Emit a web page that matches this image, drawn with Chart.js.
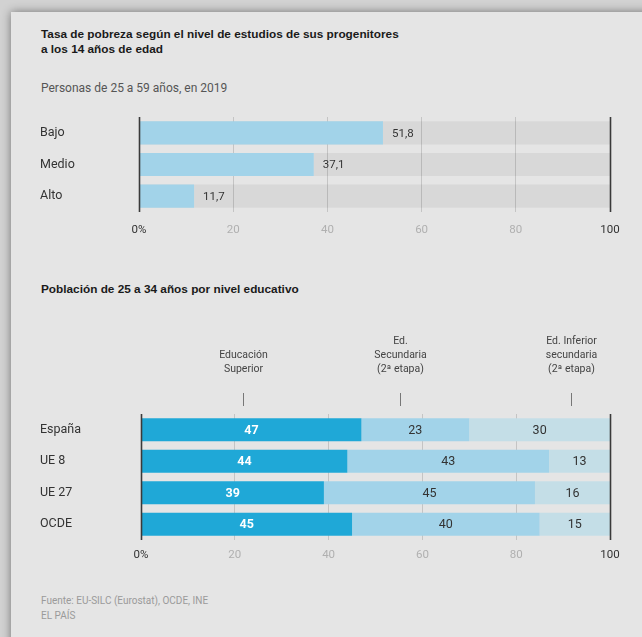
<!DOCTYPE html>
<html>
<head>
<meta charset="utf-8">
<script src="https://cdn.jsdelivr.net/npm/chart.js@4.4.1/dist/chart.umd.min.js"></script>
<style>
    html, body {
        margin: 0;
        padding: 0;
    }
    body {
        width: 642px;
        height: 637px;
        overflow: hidden;
        background: #d2d2d2;
        position: relative;
        font-family: Roboto, "Noto Sans", sans-serif;
    }
    #card {
        position: absolute;
        left: 11px;
        top: 12px;
        width: 700px;
        height: 700px;
        background: #e5e5e5;
        box-shadow: 0 0 9px rgba(0, 0, 0, 0.45);
    }
    .title {
        position: absolute;
        left: 41px;
        font-family: "Liberation Sans", Arial, sans-serif;
        font-weight: bold;
        font-size: 11.8px;
        line-height: 15px;
        color: #1a1a1a;
    }
    .subtitle {
        position: absolute;
        left: 41px;
        top: 81px;
        font-size: 12px;
        color: #555;
    }
    .footer {
        position: absolute;
        left: 41px;
        top: 593px;
        font-size: 10px;
        line-height: 15px;
        color: #9a9a9a;
    }
    canvas {
        position: absolute;
        left: 0;
    }
</style>
</head>
<body>
<div id="card"></div>
<div class="title" style="top: 27px;">Tasa de pobreza según el nivel de estudios de sus progenitores<br>a los 14 años de edad</div>
<div class="subtitle">Personas de 25 a 59 años, en 2019</div>
<div class="title" style="top: 282px;">Población de 25 a 34 años por nivel educativo</div>
<div class="footer">Fuente: EU-SILC (Eurostat), OCDE, INE<br>EL PAÍS</div>

<div style="position:absolute;left:0;top:100px;width:642px;height:145px;">
    <canvas id="pobreza"></canvas>
</div>
<div style="position:absolute;left:0;top:320px;width:642px;height:250px;">
    <canvas id="poblacion"></canvas>
</div>

<script>
const FONT = 'Roboto, "Noto Sans", sans-serif';

// tasa de pobreza por nivel de estudios de los progenitores
const nivelesPadres = ['Bajo', 'Medio', 'Alto'];
const tasaPobreza = [51.8, 37.1, 11.7];

// población de 25 a 34 años por nivel educativo
const zonas = ['España', 'UE 8', 'UE 27', 'OCDE'];
const superior = [47, 44, 39, 45];
const secundaria = [23, 43, 45, 40];
const inferior = [30, 13, 16, 15];
const nivelesEducativos = [
    ['Educación', 'Superior'],
    ['Ed.', 'Secundaria', '(2ª etapa)'],
    ['Ed. Inferior', 'secundaria', '(2ª etapa)']
];

const xTicks = [0, 20, 40, 60, 80, 100];

function tickLabel(value) {
    return value === 0 ? '0%' : String(value);
}

function xScaleOptions(tickPadding, axisHeight) {
    return {
        min: 0, max: 100,
        stacked: true,
        afterBuildTicks: function (scale) {
            scale.ticks = xTicks.map(v => ({value: v}));
        },
        afterFit: function (scale) {
            scale.height = axisHeight;
        },
        border: {display: false},
        grid: {
            drawTicks: false,
            color: ctx => (ctx.tick.value === 0 || ctx.tick.value === 100) ? 'rgba(0,0,0,0)' : '#c4c4c4',
            lineWidth: 1
        },
        ticks: {
            padding: tickPadding,
            maxRotation: 0,
            callback: tickLabel,
            color: ctx => (ctx.tick.value === 0 || ctx.tick.value === 100) ? '#333' : '#b0b0b0',
            font: {family: FONT, size: 11.5}
        }
    };
}

function yScaleOptions(axisWidth) {
    return {
        stacked: true,
        afterFit: function (scale) {
            scale.width = axisWidth;
        },
        border: {display: false},
        grid: {display: false, drawTicks: false},
        ticks: {
            crossAlign: 'far',
            padding: 0,
            color: '#333',
            font: {family: FONT, size: 12.5}
        }
    };
}

// dark lines at 0 and 100, drawn above the bars
const edgeLines = {
    id: 'edgeLines',
    afterDatasetsDraw(chart) {
        const {ctx, chartArea, scales: {x}} = chart;
        ctx.save();
        ctx.strokeStyle = '#3a3a3a';
        ctx.lineWidth = 1.6;
        [x.min, x.max].forEach(v => {
            const px = Math.round(x.getPixelForValue(v)) + 0.5;
            ctx.beginPath();
            ctx.moveTo(px, chartArea.top);
            ctx.lineTo(px, chartArea.bottom);
            ctx.stroke();
        });
        ctx.restore();
    }
};

// value printed just after the end of each bar
const endLabels = {
    id: 'endLabels',
    afterDatasetsDraw(chart) {
        const {ctx} = chart;
        const meta = chart.getDatasetMeta(1);
        ctx.save();
        ctx.font = '11.5px ' + FONT;
        ctx.fillStyle = '#333';
        ctx.textAlign = 'left';
        ctx.textBaseline = 'middle';
        meta.data.forEach((bar, i) => {
            const value = chart.data.datasets[1].data[i];
            ctx.fillText(value.toFixed(1).replace('.', ','), bar.x + 9, bar.y + 1);
        });
        ctx.restore();
    }
};

// value centred inside each stacked segment
const segmentLabels = {
    id: 'segmentLabels',
    afterDatasetsDraw(chart) {
        const {ctx} = chart;
        ctx.save();
        ctx.textAlign = 'center';
        ctx.textBaseline = 'middle';
        chart.data.datasets.forEach((ds, d) => {
            const meta = chart.getDatasetMeta(d);
            ctx.font = (d === 0 ? 'bold 12.5px ' : '12.5px ') + FONT;
            ctx.fillStyle = d === 0 ? '#ffffff' : '#333';
            meta.data.forEach((bar, i) => {
                ctx.fillText(String(ds.data[i]), (bar.x + bar.base) / 2, bar.y + 1);
            });
        });
        ctx.restore();
    }
};

// column headings above the stacked bars
const headings = {
    id: 'headings',
    afterDraw(chart) {
        const {ctx, scales: {x}} = chart;
        const at = [21.7, 55.2, 91.7];
        ctx.save();
        ctx.font = '10.5px ' + FONT;
        ctx.fillStyle = '#444';
        ctx.textAlign = 'center';
        ctx.textBaseline = 'middle';
        ctx.strokeStyle = '#777';
        ctx.lineWidth = 1;
        nivelesEducativos.forEach((lines, i) => {
            const px = Math.round(x.getPixelForValue(at[i])) + 0.5;
            const first = 49 - (lines.length - 1) * 14;
            lines.forEach((line, j) => ctx.fillText(line, px, first + j * 14));
            ctx.beginPath();
            ctx.moveTo(px, 73);
            ctx.lineTo(px, 86);
            ctx.stroke();
        });
        ctx.restore();
    }
};

function renderPobreza() {
    const ctx = document.getElementById('pobreza').getContext('2d');
    new Chart(ctx, {
        type: 'bar',
        data: {
            labels: nivelesPadres,
            datasets: [{
                data: nivelesPadres.map(() => 100),
                backgroundColor: 'rgba(0,0,0,0.055)',
                order: 2
            }, {
                data: tasaPobreza,
                backgroundColor: '#a2d3e9',
                order: 1
            }]
        },
        options: {
            indexAxis: 'y',
            responsive: true,
            maintainAspectRatio: false,
            animation: false,
            barPercentage: 0.73,
            categoryPercentage: 1,
            grouped: false,
            layout: {padding: {left: 40, right: 32, top: 17, bottom: 0}},
            plugins: {legend: {display: false}, tooltip: {enabled: false}},
            scales: {
                x: Object.assign(xScaleOptions(11, 33), {stacked: false}),
                y: Object.assign(yScaleOptions(99), {stacked: false})
            }
        },
        plugins: [edgeLines, endLabels]
    });
}

function renderPoblacion() {
    const ctx = document.getElementById('poblacion').getContext('2d');
    new Chart(ctx, {
        type: 'bar',
        data: {
            labels: zonas,
            datasets: [{
                data: superior,
                backgroundColor: '#1fa8d7'
            }, {
                data: secundaria,
                backgroundColor: '#a2d3e9'
            }, {
                data: inferior,
                backgroundColor: '#c4dee7'
            }]
        },
        options: {
            indexAxis: 'y',
            responsive: true,
            maintainAspectRatio: false,
            animation: false,
            barPercentage: 0.73,
            categoryPercentage: 1,
            layout: {padding: {left: 40, right: 32, top: 94, bottom: 0}},
            plugins: {legend: {display: false}, tooltip: {enabled: false}},
            scales: {
                x: xScaleOptions(8, 30),
                y: yScaleOptions(101)
            }
        },
        plugins: [edgeLines, segmentLabels, headings]
    });
}

renderPobreza();
renderPoblacion();
</script>
</body>
</html>
